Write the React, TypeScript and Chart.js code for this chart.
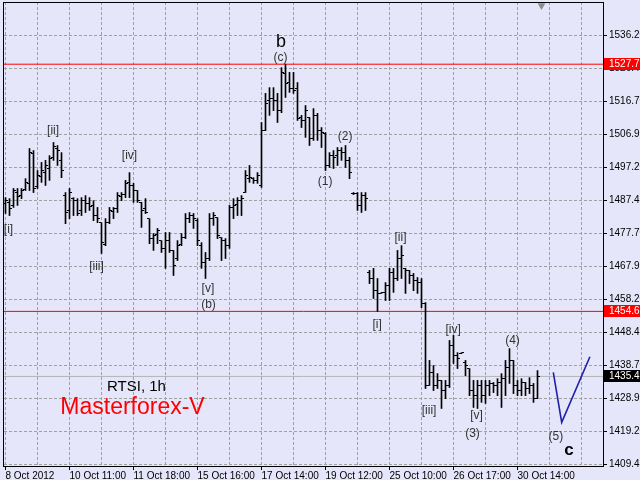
import React, { useEffect, useRef } from "react";
import { Chart, registerables } from "chart.js";

Chart.register(...registerables);

const FONT = "'Liberation Sans', Arial, sans-serif";

// ---- OHLC data (RTSI, 1h) ----
const opens = [
  1486.6, 1486.9, 1486.0, 1489.8, 1488.9, 1490.7, 1492.5, 1501.3, 1491.6, 1494.5,
  1495.7, 1496.9, 1500.2, 1502.8, 1499.3, 1488.9, 1484.5, 1488.0, 1487.4, 1484.5,
  1487.4, 1486.6, 1486.0, 1483.0, 1480.9, 1474.4, 1480.9, 1484.2, 1485.1, 1488.6,
  1489.2, 1492.8, 1491.9, 1490.4, 1486.9, 1485.1, 1482.1, 1476.2, 1477.4, 1475.6,
  1473.3, 1475.6, 1472.7, 1470.3, 1474.4, 1476.5, 1482.1, 1483.0, 1481.5, 1474.1,
  1469.1, 1470.3, 1482.1, 1482.4, 1476.5, 1475.6, 1474.1, 1485.4, 1486.3, 1487.4,
  1489.8, 1493.9, 1493.9, 1493.4, 1491.9, 1508.1, 1517.0, 1517.6, 1517.0, 1514.0,
  1525.0, 1522.3, 1520.5, 1520.5, 1512.0, 1511.1, 1512.0, 1505.8, 1512.6, 1508.1,
  1507.2, 1497.8, 1500.7, 1500.7, 1502.2, 1501.6, 1499.3, 1489.5, 1489.5, 1486.0,
  1488.9, 1466.2, 1464.4, 1460.8, 1460.0, 1460.3, 1462.3, 1466.2, 1464.4, 1470.3,
  1467.4, 1466.8, 1465.3, 1463.8, 1463.2, 1457.0, 1432.8, 1436.6, 1432.8, 1434.3,
  1431.3, 1432.8, 1444.6, 1441.6, 1442.2, 1439.6, 1437.8, 1431.3, 1429.8, 1432.8,
  1429.8, 1432.8, 1433.4, 1432.8, 1433.7, 1434.8, 1438.1, 1440.2, 1432.8, 1431.3,
  1433.7, 1431.9, 1432.8, 1428.9,
];
const highs = [
  1488.3, 1488.0, 1491.0, 1491.0, 1491.0, 1493.9, 1502.8, 1502.2, 1496.3, 1498.7,
  1499.3, 1500.7, 1504.6, 1503.7, 1501.6, 1489.8, 1491.0, 1488.3, 1488.0, 1488.3,
  1488.9, 1488.3, 1487.4, 1485.4, 1480.9, 1482.1, 1485.4, 1485.4, 1489.8, 1489.8,
  1493.4, 1495.7, 1492.5, 1490.4, 1486.9, 1488.0, 1482.1, 1477.7, 1479.2, 1475.6,
  1478.0, 1478.0, 1472.7, 1475.6, 1477.7, 1483.6, 1483.9, 1483.6, 1482.1, 1475.0,
  1472.1, 1483.6, 1483.9, 1482.4, 1476.5, 1476.2, 1486.0, 1488.0, 1488.3, 1488.9,
  1496.3, 1497.8, 1494.2, 1495.7, 1510.5, 1519.1, 1520.8, 1520.8, 1519.1, 1526.7,
  1527.72, 1525.3, 1525.3, 1522.3, 1512.6, 1515.5, 1512.0, 1514.6, 1513.2, 1509.0,
  1507.5, 1501.6, 1502.2, 1503.1, 1503.1, 1503.7, 1500.2, 1489.8, 1489.8, 1489.8,
  1489.8, 1466.8, 1467.4, 1464.4, 1460.3, 1463.2, 1467.4, 1467.4, 1472.7, 1474.1,
  1467.4, 1466.8, 1465.9, 1464.7, 1464.4, 1457.3, 1440.2, 1438.7, 1436.3, 1434.3,
  1434.3, 1446.1, 1447.6, 1442.5, 1442.5, 1440.2, 1437.8, 1434.3, 1434.3, 1434.3,
  1434.3, 1434.3, 1433.7, 1434.8, 1436.3, 1440.2, 1443.7, 1440.2, 1434.3, 1434.8,
  1433.7, 1435.1, 1433.4, 1437.2,
];
const lows = [
  1483.6, 1483.0, 1485.4, 1486.0, 1488.0, 1490.4, 1490.4, 1489.8, 1491.0, 1492.8,
  1491.9, 1493.4, 1499.3, 1497.8, 1494.2, 1480.6, 1482.1, 1483.0, 1483.0, 1483.0,
  1483.9, 1484.5, 1481.5, 1480.9, 1471.8, 1474.1, 1480.6, 1482.1, 1483.9, 1487.4,
  1488.3, 1488.3, 1486.9, 1486.9, 1479.5, 1483.6, 1474.7, 1472.7, 1474.7, 1472.1,
  1467.4, 1472.1, 1465.3, 1469.7, 1474.1, 1476.2, 1480.9, 1479.2, 1474.1, 1467.4,
  1464.4, 1469.7, 1480.1, 1476.2, 1469.7, 1470.3, 1473.3, 1482.1, 1483.0, 1483.0,
  1489.8, 1492.8, 1492.5, 1492.5, 1491.3, 1508.1, 1512.6, 1514.0, 1510.5, 1513.4,
  1517.9, 1519.4, 1519.1, 1511.1, 1509.0, 1506.1, 1503.7, 1505.2, 1505.2, 1503.1,
  1496.3, 1497.2, 1496.9, 1497.8, 1499.3, 1497.2, 1493.9, 1489.2, 1484.5, 1483.9,
  1484.5, 1462.9, 1458.5, 1454.69, 1460.0, 1457.9, 1457.9, 1460.3, 1463.8, 1464.4,
  1460.0, 1462.9, 1460.8, 1460.0, 1455.8, 1431.9, 1432.8, 1431.3, 1431.9, 1426.0,
  1428.9, 1432.2, 1439.3, 1437.8, 1442.2, 1435.7, 1429.8, 1426.3, 1426.0, 1427.8,
  1427.5, 1429.8, 1430.7, 1429.8, 1426.3, 1429.8, 1433.4, 1430.4, 1429.8, 1429.8,
  1429.8, 1430.4, 1427.8, 1428.9,
];
const closes = [
  1487.4, 1485.1, 1490.4, 1488.6, 1490.4, 1492.8, 1501.6, 1491.0, 1494.8, 1496.3,
  1497.8, 1499.9, 1503.4, 1502.2, 1496.3, 1483.9, 1489.8, 1487.4, 1483.6, 1487.4,
  1486.6, 1485.7, 1483.0, 1482.1, 1475.0, 1480.9, 1484.5, 1485.1, 1488.9, 1489.2,
  1492.5, 1491.9, 1490.4, 1487.4, 1484.5, 1483.9, 1476.2, 1477.1, 1478.6, 1473.3,
  1475.6, 1472.7, 1468.2, 1474.1, 1476.5, 1482.1, 1483.0, 1482.1, 1475.6, 1469.1,
  1470.3, 1482.1, 1483.0, 1477.1, 1475.6, 1474.1, 1485.4, 1486.0, 1487.4, 1488.0,
  1494.8, 1494.2, 1493.4, 1494.8, 1508.1, 1516.1, 1517.6, 1517.0, 1514.0, 1525.3,
  1522.0, 1520.5, 1519.9, 1511.7, 1511.1, 1514.0, 1505.8, 1512.6, 1508.1, 1507.5,
  1497.8, 1500.7, 1500.2, 1502.2, 1501.6, 1499.3, 1495.7, 1489.5, 1486.0, 1488.9,
  1488.0, 1464.4, 1460.8, 1460.0, 1460.3, 1462.3, 1466.2, 1464.4, 1470.3, 1471.2,
  1466.8, 1465.3, 1463.8, 1463.2, 1457.0, 1432.8, 1436.6, 1432.8, 1434.3, 1431.3,
  1432.8, 1444.6, 1441.6, 1440.8, 1442.5, 1438.7, 1431.3, 1429.8, 1432.8, 1429.8,
  1432.8, 1433.4, 1432.8, 1433.7, 1434.8, 1438.1, 1440.2, 1432.8, 1431.3, 1433.7,
  1431.9, 1432.8, 1428.9, 1435.47,
];

// ---- axes ----
const xTickLabels = [
  "8 Oct 2012", "10 Oct 11:00", "11 Oct 18:00", "15 Oct 16:00", "17 Oct 14:00",
  "19 Oct 12:00", "25 Oct 10:00", "26 Oct 17:00", "30 Oct 14:00",
];
const xGridValues = [0, 8, 16, 24, 32, 40, 48, 56, 64, 72, 80, 88, 96, 104, 112, 120, 128, 136, 144];
const yTickValues = [
  1409.45, 1419.2, 1428.95, 1438.7, 1448.45, 1458.2, 1467.95, 1477.7,
  1487.45, 1497.2, 1506.95, 1516.7, 1526.45, 1536.2,
];
const X_MIN = -0.375;
const X_MAX = 149.375;
const Y_MIN = 1409.007;
const Y_MAX = 1546.098;

// ---- horizontal price levels ----
const priceLines = [1527.72, 1454.69, 1435.47];

// ---- forecast path ----
const forecastX = [136.95, 139.05, 146.1];
const forecastY = [1436.7, 1421.9, 1441.3];

// ---- shift marker ----
const markerX = [134];
const markerY = [1545.1];

// ---- wave labels ----
const waveTexts = ["b", "(c)", "[ii]", "[iv]", "[i]", "[iii]", "[v]", "(b)", "(1)", "(2)",
  "[i]", "[ii]", "[iii]", "[iv]", "[v]", "(3)", "(4)", "(5)", "c"];
const waveX = [68.9, 68.75, 11.9, 31.0, 0.75, 22.75, 50.6, 50.75, 79.9, 84.9,
  92.9, 98.75, 105.9, 111.9, 117.75, 116.75, 126.75, 137.6, 140.9];
const waveY = [1534.4, 1529.6, 1508.1, 1500.6, 1478.9, 1467.8, 1461.3, 1456.6, 1492.9, 1506.2,
  1450.9, 1476.5, 1425.4, 1449.2, 1423.9, 1418.7, 1446.07, 1417.6, 1413.7];

// ---- captions ----
const captionTexts = ["RTSI, 1h", "Masterforex-V"];
const captionX = [32.75, 31.75];
const captionY = [1432.5, 1426.3];

export default function App() {
  const ref = useRef<HTMLCanvasElement>(null);

  useEffect(() => {
    const canvas = ref.current;
    if (!canvas) return;

    const mkTick = (left: boolean) => {
      const c = document.createElement("canvas");
      c.width = 5;
      c.height = 1;
      const g = c.getContext("2d")!;
      g.fillStyle = "#000";
      g.fillRect(left ? 0 : 3, 0, 2, 1);
      return c;
    };
    const openImg = mkTick(true);
    const closeImg = mkTick(false);
    const idx = opens.map((_, i) => i);

    const lineColors = ["#ff0000", "#ff0000", "#b4b4b4"];
    const boxColors = ["#ff0000", "#ff0000", "#000000"];

    const overlay = {
      id: "overlay",
      afterDatasetsDraw(chart: any) {
        const { ctx, chartArea: a, scales } = chart;
        const xs = scales.x;
        const ys = scales.y;
        ctx.save();
        ctx.strokeStyle = "#000";
        ctx.lineWidth = 1;
        ctx.strokeRect(a.left - 0.5, a.top + 0.5, a.right - a.left + 1, a.bottom - a.top);
        ctx.textAlign = "center";
        ctx.textBaseline = "middle";
        waveTexts.forEach((t, k) => {
          if (t === "b") ctx.font = `18px ${FONT}`;
          else if (t === "c") ctx.font = `bold 17px ${FONT}`;
          else ctx.font = `12px ${FONT}`;
          ctx.fillStyle = t === "b" || t === "c" ? "#000" : "#333";
          ctx.fillText(t, xs.getPixelForValue(waveX[k]), ys.getPixelForValue(waveY[k]));
        });
        captionTexts.forEach((t, k) => {
          ctx.font = k === 0 ? `15px ${FONT}` : `23px ${FONT}`;
          ctx.fillStyle = k === 0 ? "#000" : "#ff0000";
          ctx.fillText(t, xs.getPixelForValue(captionX[k]), ys.getPixelForValue(captionY[k]));
        });
        ctx.restore();
      },
      afterDraw(chart: any) {
        const { ctx, chartArea: a, scales } = chart;
        const ys = scales.y;
        ctx.save();
        ctx.font = `10px ${FONT}`;
        ctx.textAlign = "left";
        ctx.textBaseline = "middle";
        priceLines.forEach((v, k) => {
          const py = Math.round(ys.getPixelForValue(v));
          ctx.fillStyle = boxColors[k];
          ctx.fillRect(a.right + 1, py - 6, 40, 12);
          ctx.fillStyle = "#fff";
          ctx.fillText(v.toFixed(2), a.right + 6, py);
        });
        ctx.restore();
      },
    };

    const chart = new Chart(canvas, {
      type: "bar",
      data: {
        datasets: [
          {
            type: "bar",
            data: idx.map((i) => ({ x: i, y: [lows[i], highs[i]] })) as any,
            backgroundColor: "#000",
            borderWidth: 0,
            barThickness: 1,
            maxBarThickness: 1,
            order: 1,
          } as any,
          {
            type: "line",
            data: idx.map((i) => ({ x: i, y: opens[i] })),
            showLine: false,
            pointStyle: openImg,
            pointRadius: 2,
            order: 0,
          } as any,
          {
            type: "line",
            data: idx.map((i) => ({ x: i, y: closes[i] })),
            showLine: false,
            pointStyle: closeImg,
            pointRadius: 2,
            order: 0,
          } as any,
          ...priceLines.map((v, k) => ({
            type: "line",
            data: [{ x: X_MIN, y: v }, { x: X_MAX, y: v }],
            borderColor: lineColors[k],
            borderWidth: 1,
            pointRadius: 0,
            order: 5,
          } as any)),
          {
            type: "line",
            data: forecastX.map((x, k) => ({ x, y: forecastY[k] })),
            borderColor: "#2020a8",
            borderWidth: 1.6,
            pointRadius: 0,
            tension: 0,
            order: 2,
          } as any,
          {
            type: "line",
            data: markerX.map((x, k) => ({ x, y: markerY[k] })),
            showLine: false,
            pointStyle: "triangle",
            pointRotation: 180,
            pointRadius: 4.5,
            pointBackgroundColor: "#8c8c8c",
            pointBorderColor: "#8c8c8c",
            pointBorderWidth: 0,
            clip: false,
            order: 3,
          } as any,
        ],
      },
      options: {
        animation: false,
        responsive: false,
        maintainAspectRatio: false,
        devicePixelRatio: 1,
        events: [],
        layout: { autoPadding: false, padding: { left: 4, top: 2, right: 0, bottom: 0 } },
        plugins: { legend: { display: false }, tooltip: { enabled: false } },
        scales: {
          x: {
            type: "linear",
            min: X_MIN,
            max: X_MAX,
            bounds: "data",
            offset: false,
            afterBuildTicks: (s: any) => {
              s.ticks = xGridValues.map((v) => ({ value: v }));
            },
            afterFit: (s: any) => {
              s.height = 14;
              s.paddingLeft = 0;
              s.paddingRight = 0;
            },
            ticks: {
              autoSkip: false,
              maxRotation: 0,
              minRotation: 0,
              align: "start",
              padding: 0,
              color: "#000",
              font: { family: FONT, size: 10 },
              callback: (v: any) => {
                const n = Number(v);
                return n % 16 === 0 ? xTickLabels[n / 16] ?? "" : "";
              },
            },
            grid: {
              offset: false,
              color: "#a0a0a0",
              lineWidth: 1,
              tickLength: 4,
              tickColor: (c: any) =>
                c.tick && c.tick.value % 16 === 0 && c.tick.value / 16 < xTickLabels.length
                  ? "#000"
                  : "rgba(0,0,0,0)",
            },
            border: { display: false, dash: [3, 2] },
          } as any,
          y: {
            type: "linear",
            position: "right",
            min: Y_MIN,
            max: Y_MAX,
            bounds: "data",
            beginAtZero: false,
            afterBuildTicks: (s: any) => {
              s.ticks = yTickValues.map((v) => ({ value: v }));
            },
            afterFit: (s: any) => {
              s.width = 37;
              s.paddingTop = 0;
              s.paddingBottom = 0;
            },
            ticks: {
              autoSkip: false,
              padding: 2,
              color: "#000",
              font: { family: FONT, size: 10 },
              callback: (v: any) => Number(v).toFixed(2),
            },
            grid: {
              color: "#a0a0a0",
              lineWidth: 1,
              tickLength: 4,
              tickColor: "#000",
            },
            border: { display: false, dash: [3, 2] },
          } as any,
        },
      },
      plugins: [overlay],
    } as any);

    return () => chart.destroy();
  }, []);

  return (
    <div
      style={{
        position: "fixed",
        left: 0,
        top: 0,
        width: 640,
        height: 480,
        background: "#E6E6FA",
        overflow: "hidden",
      }}
    >
      <canvas ref={ref} width={640} height={480} style={{ display: "block", width: 640, height: 480 }} />
    </div>
  );
}
